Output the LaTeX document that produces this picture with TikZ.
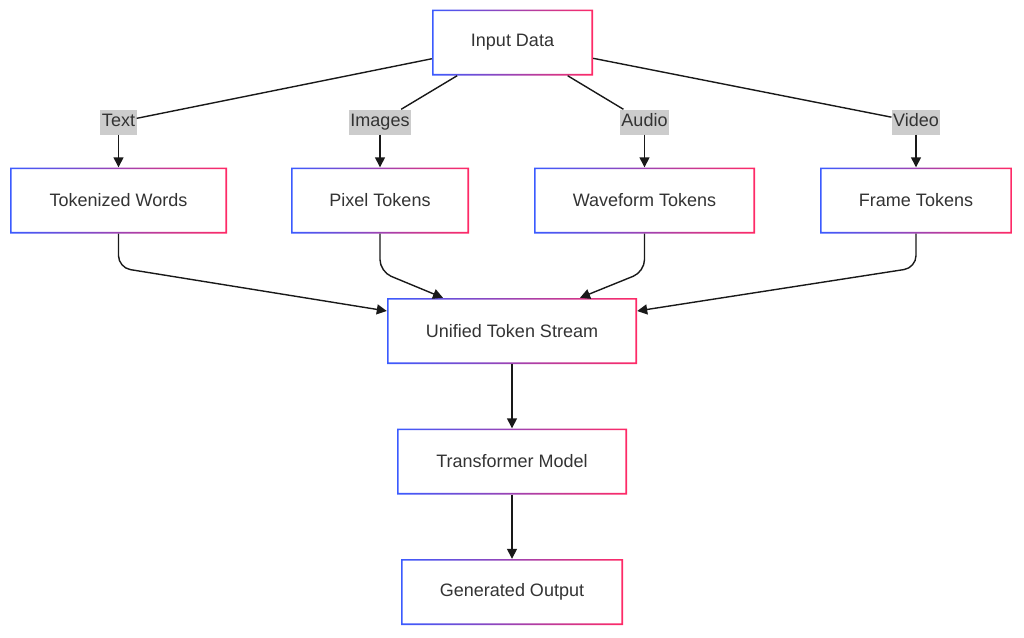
\documentclass[tikz,border=0pt]{standalone}
\usepackage{fontspec}
\setmainfont{Liberation Sans}
\usepackage{xcolor}
\usetikzlibrary{arrows.meta}
\tikzset{>={Triangle[width=10pt,length=10pt]}}
\definecolor{edgeblue}{HTML}{3B5BFF}
\definecolor{edgepink}{HTML}{FF2A66}
\definecolor{taggray}{HTML}{CCCCCC}
\definecolor{textgray}{HTML}{333333}

\begin{document}
\begin{tikzpicture}[x=1pt, y=-1pt, box/.style={rectangle, fill=white, minimum height=66pt, inner sep=0pt, text=textgray, font=\fontsize{18}{22}\selectfont, path picture={\shade[left color=edgeblue, right color=edgepink, even odd rule] (path picture bounding box.south west) rectangle (path picture bounding box.north east) ([shift={(1.7pt,1.7pt)}]path picture bounding box.south west) rectangle ([shift={(-1.7pt,-1.7pt)}]path picture bounding box.north east);}}, tag/.style={rectangle, fill=taggray, text=textgray, font=\fontsize{18}{22}\selectfont, text height=13pt, text depth=4pt, inner xsep=1.5pt, inner ysep=4pt}, link/.style={line width=1.4pt, black!90}]

    \useasboundingbox (0,0) rectangle (1024,637);

    %Nodes
    \node[box, minimum width=161pt](input) at (512.5,42.5){Input Data};
    \node[box, minimum width=217pt](words) at (118.5,200.5){Tokenized Words};
    \node[box, minimum width=178pt](pixels) at (380,200.5){Pixel Tokens};
    \node[box, minimum width=221pt](wave) at (644.5,200.5){Waveform Tokens};
    \node[box, minimum width=192pt](frames) at (916,200.5){Frame Tokens};
    \node[box, minimum width=250pt](stream) at (512,331){Unified Token Stream};
    \node[box, minimum width=230pt](model) at (512,461.5){Transformer Model};
    \node[box, minimum width=222pt](output) at (512,592){Generated Output};
    \node[tag](text_tag) at (118.5,122){Text};
    \node[tag](images_tag) at (380,122){Images};
    \node[tag](audio_tag) at (644.5,122){Audio};
    \node[tag](video_tag) at (916,122){Video};

    %Lines
    \draw[link] (input) -- (text_tag);
    \draw[link] (input) -- (images_tag);
    \draw[link] (input) -- (audio_tag);
    \draw[link] (input) -- (video_tag);
    \draw[link, ->] (text_tag) -- (words);
    \draw[link, ->] (images_tag) -- (pixels);
    \draw[link, ->] (audio_tag) -- (wave);
    \draw[link, ->] (video_tag) -- (frames);
    \draw[link, ->, rounded corners=12pt] (words.south) -- ++(0,34) -- ([yshift=20pt]stream.west);
    \draw[link, ->, rounded corners=12pt] (pixels.south) -- ++(0,38) -- ([xshift=-69pt]stream.north);
    \draw[link, ->, rounded corners=12pt] (wave.south) -- ++(0,38) -- ([xshift=68pt]stream.north);
    \draw[link, ->, rounded corners=12pt] (frames.south) -- ++(0,34) -- ([yshift=20pt]stream.east);
    \draw[link, ->] (stream) -- (model);
    \draw[link, ->] (model) -- (output);

\end{tikzpicture}
\end{document}
